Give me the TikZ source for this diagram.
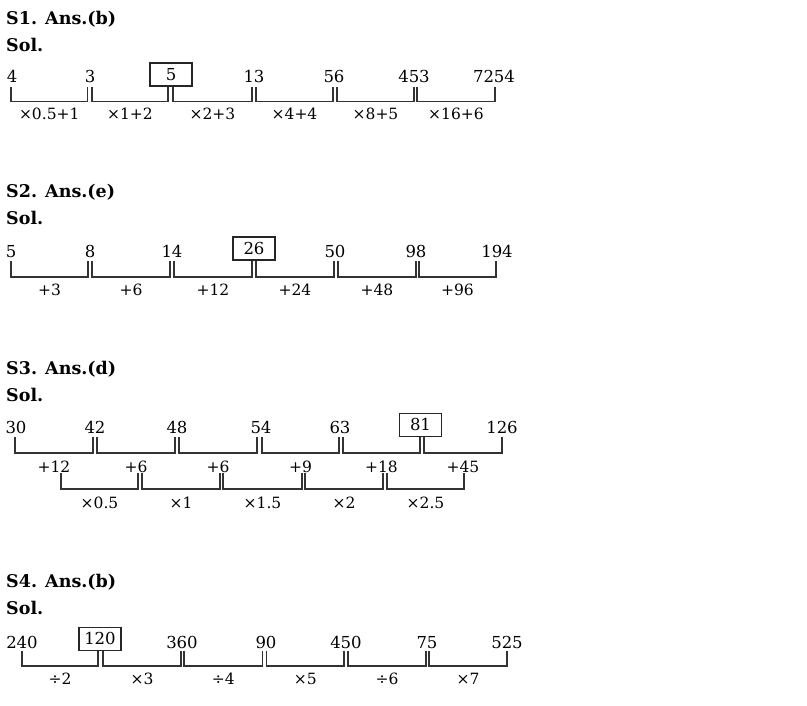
\documentclass[tikz,border=0pt]{standalone}
\usepackage{fontspec}
\setmainfont{DejaVu Serif}
\usetikzlibrary{calc}
\tikzset{
  sq/head/.style={anchor=base west, inner sep=0pt,
    font=\fontsize{17.5}{20}\selectfont\bfseries},
  sq/num/.style={anchor=base, inner sep=0pt,
    font=\fontsize{16.5}{19}\selectfont},
  sq/box/.style={anchor=south, draw=black!85, line width=1.5pt,
    minimum width=42pt, minimum height=23pt, inner sep=0pt,
    font=\fontsize{16.5}{19}\selectfont},
  sq/lbl/.style={anchor=base, inner sep=0pt,
    font=\fontsize{15.5}{18}\selectfont},
  sq/brk/.style={draw=black!80, line width=1.8pt}
}

\begin{document}
\begin{tikzpicture}[x=1pt, y=-1pt]
  \useasboundingbox (0,0) rectangle (807,706);

  % S1
  \node[sq/head] (t1) at (6,25) {S1. Ans.(b)};
  \node[sq/head] (s1) at (6,52) {Sol.};
  \node[sq/num] (a1) at (12,83) {4};
  \node[sq/num] (a2) at (90,83) {3};
  \node[sq/box] (a3) at (171,87) {5};
  \node[sq/num] (a4) at (254,83) {13};
  \node[sq/num] (a5) at (334,83) {56};
  \node[sq/num] (a6) at (414,83) {453};
  \node[sq/num] (a7) at (494,83) {7254};
  \foreach \xa/\xb/\txt [count=\i] in {11/87.5/×0.5+1, 92/168/×1+2,
      173/252/×2+3, 256/333/×4+4, 337/414/×8+5, 417/495/×16+6}{
    \coordinate (p1a\i) at (\xa,87);
    \coordinate (p1b\i) at (\xb,87);
    \draw[sq/brk] (p1a\i) -- ++(0,14.5) -| (p1b\i);
    \node[sq/lbl] (o1\i) at ({(\xa+\xb)/2},120) {\txt};
  }

  % S2
  \node[sq/head] (t2) at (6,198) {S2. Ans.(e)};
  \node[sq/head] (s2) at (6,225) {Sol.};
  \node[sq/num] (b1) at (11,258) {5};
  \node[sq/num] (b2) at (90,258) {8};
  \node[sq/num] (b3) at (172,258) {14};
  \node[sq/box] (b4) at (254,261) {26};
  \node[sq/num] (b5) at (335,258) {50};
  \node[sq/num] (b6) at (416,258) {98};
  \node[sq/num] (b7) at (497,258) {194};
  \foreach \xa/\xb/\txt [count=\i] in {11/88/+3, 92/170/+6, 174/252/+12,
      256/334/+24, 338/416/+48, 419/496/+96}{
    \coordinate (p2a\i) at (\xa,261);
    \coordinate (p2b\i) at (\xb,261);
    \draw[sq/brk] (p2a\i) -- ++(0,16) -| (p2b\i);
    \node[sq/lbl] (o2\i) at ({(\xa+\xb)/2},295) {\txt};
  }

  % S3
  \node[sq/head] (t3) at (6,374) {S3. Ans.(d)};
  \node[sq/head] (s3) at (6,401) {Sol.};
  \node[sq/num] (c1) at (16,433) {30};
  \node[sq/num] (c2) at (95,433) {42};
  \node[sq/num] (c3) at (177,433) {48};
  \node[sq/num] (c4) at (261,433) {54};
  \node[sq/num] (c5) at (340,433) {63};
  \node[sq/box] (c6) at (420.5,437) {81};
  \node[sq/num] (c7) at (502,433) {126};
  \foreach \xa/\xb/\txt [count=\i] in {15/93/+12, 97/175/+6, 179/257/+6,
      262/339/+9, 343/420/+18, 424/502/+45}{
    \coordinate (p3a\i) at (\xa,437);
    \coordinate (p3b\i) at (\xb,437);
    \draw[sq/brk] (p3a\i) -- ++(0,16) -| (p3b\i);
    \node[sq/lbl] (o3\i) at ({(\xa+\xb)/2},472) {\txt};
  }
  \foreach \xa/\xb/\txt [count=\i] in {61/138/×0.5, 142/220/×1,
      223/302/×1.5, 305/383/×2, 387/464/×2.5}{
    \coordinate (q3a\i) at (\xa,473);
    \coordinate (q3b\i) at (\xb,473);
    \draw[sq/brk] (q3a\i) -- ++(0,16) -| (q3b\i);
    \node[sq/lbl] (u3\i) at ({(\xa+\xb)/2},508) {\txt};
  }

  % S4
  \node[sq/head] (t4) at (6,587) {S4. Ans.(b)};
  \node[sq/head] (s4) at (6,614) {Sol.};
  \node[sq/num] (d1) at (22,648) {240};
  \node[sq/box] (d2) at (100,651) {120};
  \node[sq/num] (d3) at (182,648) {360};
  \node[sq/num] (d4) at (266,648) {90};
  \node[sq/num] (d5) at (346,648) {450};
  \node[sq/num] (d6) at (427,648) {75};
  \node[sq/num] (d7) at (507,648) {525};
  \foreach \xa/\xb/\txt [count=\i] in {22/98/÷2, 103/181/×3, 184/262.5/÷4,
      266.5/344/×5, 348/426/÷6, 429/507/×7}{
    \coordinate (p4a\i) at (\xa,651);
    \coordinate (p4b\i) at (\xb,651);
    \draw[sq/brk] (p4a\i) -- ++(0,15) -| (p4b\i);
    \node[sq/lbl] (o4\i) at ({(\xa+\xb)/2},684) {\txt};
  }
\end{tikzpicture}
\end{document}
